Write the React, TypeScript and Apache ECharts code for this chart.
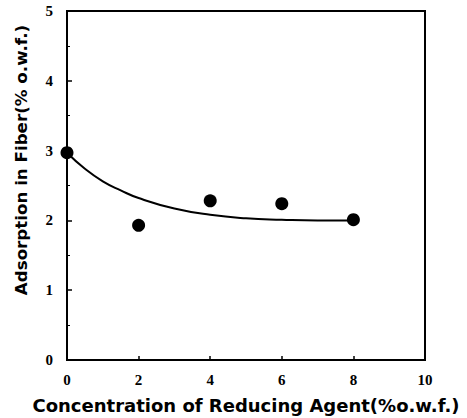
import React, { useEffect, useRef } from "react";
import * as echarts from "echarts";

const concentrations = [0, 2, 4, 6, 8];
const adsorption = [2.97, 1.93, 2.28, 2.24, 2.01];

const fitX = [0, 0.5, 1, 1.5, 2, 3, 4, 5, 6, 7, 8];
const fitY = [2.97, 2.74, 2.56, 2.43, 2.32, 2.17, 2.08, 2.03, 2.01, 2.0, 2.0];

const xTitle = "Concentration of Reducing Agent(%o.w.f.)";
const yTitle = "Adsorption in Fiber(% o.w.f.)";

export default function App() {
  const ref = useRef<HTMLDivElement>(null);
  useEffect(() => {
    if (!ref.current) return;
    const chart = echarts.init(ref.current, null, { renderer: "svg" });
    const tickLabel = {
      color: "#000",
      fontFamily: "Liberation Serif",
      fontWeight: "bold" as const,
      fontSize: 15,
    };
    chart.setOption({
      animation: false,
      backgroundColor: "#fff",
      grid: { left: 67, right: 42, top: 11, bottom: 58, show: false },
      xAxis: {
        type: "value",
        min: 0,
        max: 10,
        interval: 2,
        axisLine: { show: true, onZero: false, lineStyle: { color: "#000", width: 2 } },
        axisTick: { show: true, inside: true, length: 4, lineStyle: { color: "#000", width: 1.5 } },
        axisLabel: { ...tickLabel, margin: 12 },
        splitLine: { show: false },
      },
      yAxis: {
        type: "value",
        min: 0,
        max: 5,
        interval: 1,
        axisLine: { show: true, onZero: false, lineStyle: { color: "#000", width: 2 } },
        axisTick: { show: true, inside: true, length: 5, lineStyle: { color: "#000", width: 1.5 } },
        minorTick: { show: true, splitNumber: 2, length: 3, lineStyle: { color: "#000", width: 1 } },
        axisLabel: { ...tickLabel, margin: 14 },
        splitLine: { show: false },
      },
      graphic: [
        {
          type: "rect",
          shape: { x: 67, y: 11, width: 358, height: 349 },
          style: { fill: "none", stroke: "#000", lineWidth: 2 },
          silent: true,
          z: 0,
        },
        {
          type: "text",
          x: 246,
          y: 405,
          style: {
            text: xTitle,
            fill: "#000",
            fontFamily: "DejaVu Sans",
            fontWeight: "bold",
            fontSize: 18,
            align: "center",
            verticalAlign: "middle",
          },
        },
        {
          type: "text",
          x: 21,
          y: 160,
          rotation: Math.PI / 2,
          style: {
            text: yTitle,
            fill: "#000",
            fontFamily: "DejaVu Sans",
            fontWeight: "bold",
            fontSize: 16.7,
            align: "center",
            verticalAlign: "middle",
          },
        },
      ],
      series: [
        {
          type: "line",
          data: fitX.map((x, i) => [x, fitY[i]]),
          smooth: true,
          showSymbol: false,
          lineStyle: { color: "#000", width: 2 },
          z: 2,
        },
        {
          type: "scatter",
          data: concentrations.map((x, i) => [x, adsorption[i]]),
          symbol: "circle",
          symbolSize: 13,
          itemStyle: { color: "#000", opacity: 1 },
          z: 3,
        },
      ],
    });
    return () => chart.dispose();
  }, []);
  return <div ref={ref} style={{ width: 467, height: 418, position: "absolute", left: 0, top: 0 }} />;
}
